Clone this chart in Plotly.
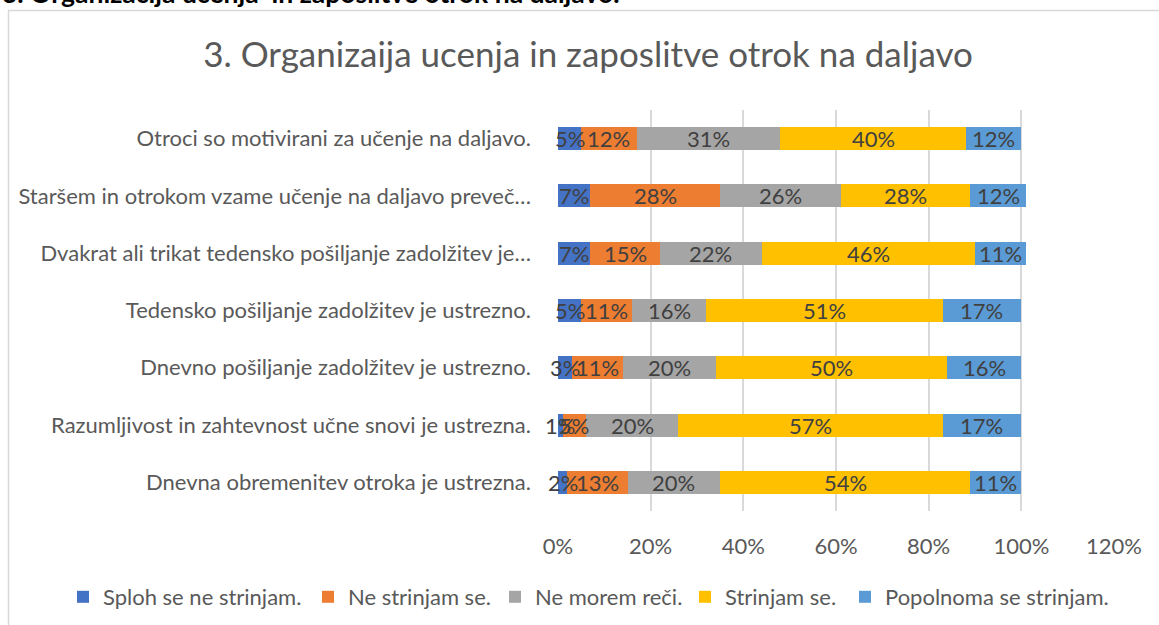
import plotly.graph_objects as go

categories = [
    "Otroci so motivirani za učenje na daljavo.",
    "Staršem in otrokom vzame učenje na daljavo preveč…",
    "Dvakrat ali trikat tedensko pošiljanje zadolžitev je…",
    "Tedensko pošiljanje zadolžitev je ustrezno.",
    "Dnevno pošiljanje zadolžitev je ustrezno.",
    "Razumljivost in zahtevnost učne snovi je ustrezna.",
    "Dnevna obremenitev otroka je ustrezna.",
]
series_names = ["Sploh se ne strinjam.", "Ne strinjam se.", "Ne morem reči.",
                "Strinjam se.", "Popolnoma se strinjam."]
sploh = [0.05, 0.07, 0.07, 0.05, 0.03, 0.01, 0.02]
ne = [0.12, 0.28, 0.15, 0.11, 0.11, 0.05, 0.13]
ne_morem = [0.31, 0.26, 0.22, 0.16, 0.20, 0.20, 0.20]
strinjam = [0.40, 0.28, 0.46, 0.51, 0.50, 0.57, 0.54]
popolnoma = [0.12, 0.12, 0.11, 0.17, 0.16, 0.17, 0.11]
x_ticks = [0, 0.2, 0.4, 0.6, 0.8, 1.0, 1.2]
x_tick_labels = ["0%", "20%", "40%", "60%", "80%", "100%", "120%"]

title = "3. Organizaija ucenja in zaposlitve otrok na daljavo"
header = "3. Organizacija učenja  in zaposlitve otrok na daljavo."

colors = ["#4472C4", "#ED7D31", "#A5A5A5", "#FFC000", "#5B9BD5"]
all_series = [sploh, ne, ne_morem, strinjam, popolnoma]
# legend text start positions (pixels) for each series entry
legend_text_x = [103, 348, 535, 725, 885]

FONT = "Lato"
FS = 22
W, H = 1159, 625
fig = go.Figure()
annotations = []
legends = {}
cum = [0.0] * len(categories)
for k, (name, vals, col) in enumerate(zip(series_names, all_series, colors)):
    lname = "legend" if k == 0 else f"legend{k + 1}"
    fig.add_trace(go.Bar(
        y=categories, x=vals, name=name, orientation="h",
        marker=dict(color=col, line=dict(width=0)),
        hoverinfo="x+y", legend=lname, showlegend=True,
    ))
    legends[lname] = dict(
        orientation="h", x=(legend_text_x[k] - 40) / W, xref="container",
        xanchor="left", y=1 - 597 / H, yref="container", yanchor="middle",
        font=dict(family=FONT, size=FS, color="#595959"),
        itemwidth=30, bgcolor="rgba(0,0,0,0)",
    )
    for i, (c, v) in enumerate(zip(categories, vals)):
        annotations.append(dict(
            x=cum[i] + v / 2, y=c, xref="x", yref="y",
            text=f"{round(v * 100)}%", showarrow=False,
            font=dict(family=FONT, size=FS, color="#404040"),
        ))
        cum[i] += v

L, R, T, B = 558, 45, 110, 114
pw = W - L - R
ph = H - T - B

def px2paper_x(px):
    return (px - L) / pw

def px2paper_y(py):
    return (H - B - py) / ph

annotations.append(dict(
    x=px2paper_x(0), y=px2paper_y(11), xref="paper", yref="paper",
    xanchor="left", yanchor="bottom", showarrow=False, text="<b>" + header + "</b>",
    font=dict(family=FONT, size=26.5, color="#000000"),
))

fig.update_layout(
    width=W, height=H,
    showlegend=True,
    margin=dict(l=L, r=R, t=T, b=B, autoexpand=False),
    paper_bgcolor="white", plot_bgcolor="white",
    barmode="stack", bargap=0.6,
    title=dict(text=title, x=588 / W, xref="container", xanchor="center",
               y=1 - 55 / H, yanchor="middle",
               font=dict(family=FONT, size=35, color="#595959")),
    xaxis=dict(range=[0, 1.2], tickvals=x_ticks, ticktext=x_tick_labels,
               showgrid=True, gridcolor="#d9d9d9", gridwidth=2,
               zeroline=False, showline=False, ticks="",
               ticklabelstandoff=20, automargin=False,
               tickfont=dict(family=FONT, size=FS, color="#595959")),
    yaxis=dict(autorange="reversed", showgrid=False, zeroline=False,
               showline=False, ticks="", ticklabelstandoff=26, automargin=False,
               tickfont=dict(family=FONT, size=FS, color="#595959")),
    annotations=annotations,
    shapes=[dict(type="rect", xref="paper", yref="paper",
                 x0=px2paper_x(8.5), x1=px2paper_x(1170),
                 y0=px2paper_y(10.5), y1=px2paper_y(640),
                 line=dict(color="#d9d9d9", width=1.5), layer="below")],
)
fig.update_layout(**legends)

fig.write_html("out.html", config={"displayModeBar": False},
               post_script="document.body.style.margin='0';document.body.style.overflow='hidden';")
